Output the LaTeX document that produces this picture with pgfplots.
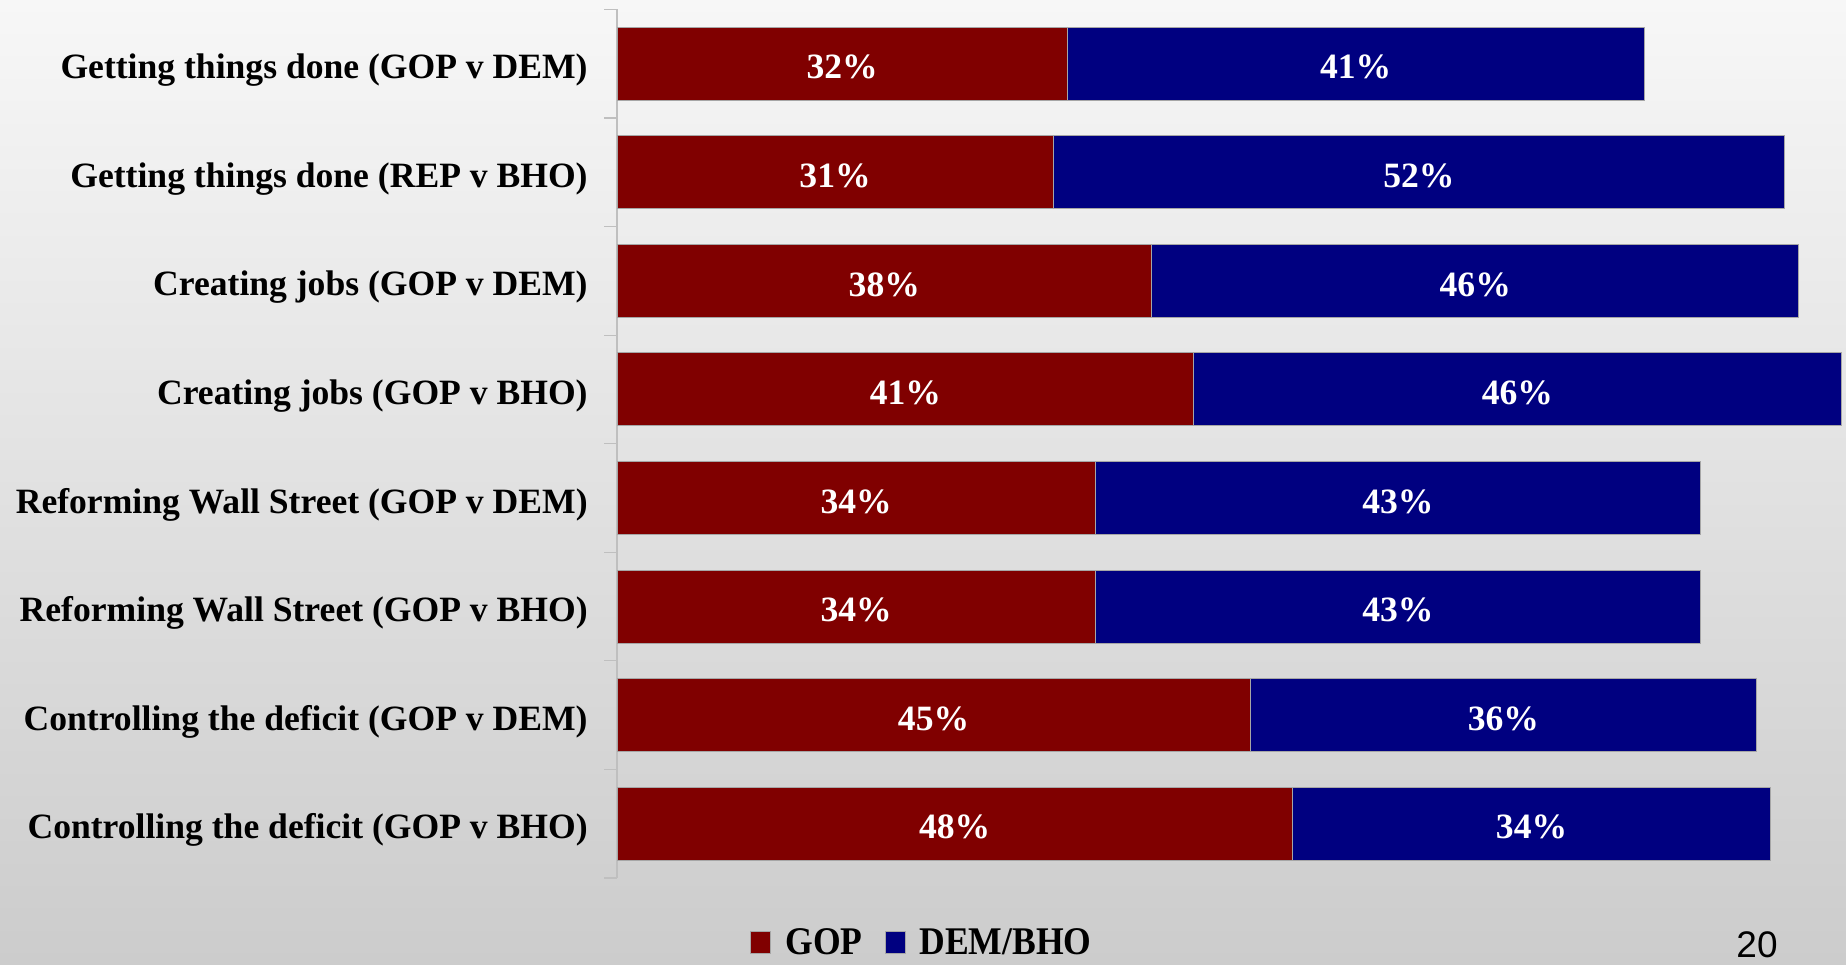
\documentclass[border=0pt]{standalone}
\usepackage{fontspec}
\setmainfont{Liberation Serif}
\newfontfamily\sansf{Liberation Sans}
\usepackage{graphicx}
\usepackage{pgfplots}
\usepackage{pgfplotstable}
\pgfplotsset{compat=1.18}
\definecolor{gop}{HTML}{800000}
\definecolor{dem}{HTML}{000080}
\definecolor{barline}{HTML}{A6A6A6}
\definecolor{axline}{HTML}{BFBFBF}
\definecolor{bgtop}{HTML}{F7F7F7}
\definecolor{bgbot}{HTML}{CCCCCC}
\pgfplotstableread{
idx gop dem
1 32 41
2 31 52
3 38 46
4 41 46
5 34 43
6 34 43
7 45 36
8 48 34
}\data
\newcommand{\lblfont}{\bfseries\fontsize{17.8}{21}\selectfont}
\begin{document}
\begin{tikzpicture}
\useasboundingbox (0,0) rectangle (923pt,482pt);
\clip (0,0) rectangle (923pt,482pt);
\shade[top color=bgtop, bottom color=bgbot] (0,0) rectangle (923pt,482pt);
\begin{axis}[
  at={(308.5pt,43pt)}, anchor=south west,
  scale only axis, width=614.5pt, height=434.3pt,
  xmin=0, xmax=87.35, ymin=0.5, ymax=8.5, y dir=reverse,
  /pgf/number format/assume math mode=true,
  axis x line=none, axis y line*=left,
  y axis line style={draw=axline, line width=0.6pt},
  ytick={1,...,8},
  yticklabels={Getting things done (GOP v DEM),Getting things done (REP v BHO),Creating jobs (GOP v DEM),Creating jobs (GOP v BHO),Reforming Wall Street (GOP v DEM),Reforming Wall Street (GOP v BHO),Controlling the deficit (GOP v DEM),Controlling the deficit (GOP v BHO)},
  minor ytick={0.5,1.5,...,8.5},
  major tick length=0pt, minor tick length=6.3pt, tick align=outside,
  tick style={draw=axline, line width=0.6pt},
  minor tick style={draw=axline, line width=0.6pt},
  yticklabel style={font=\lblfont, anchor=east, inner sep=0pt, xshift=-14.5pt, yshift=-3.2pt},
  clip=false,
  legend columns=2,
  legend style={at={(axis description cs:0.249,-0.075)}, anchor=center, draw=none, fill=none, font=\lblfont, inner sep=0pt,
    /tikz/every odd column/.append style={column sep=5pt},
    /tikz/every even column/.append style={column sep=9pt}},
  legend image code/.code={\draw[#1,draw=barline,line width=0.5pt] (0pt,-5pt) rectangle (10pt,6pt);},
]
\addplot[xbar, bar width=36.5pt, bar shift=0pt, fill=dem, draw=barline, line width=0.5pt, forget plot]
  table[x expr=\thisrow{gop}+\thisrow{dem}, y=idx]{\data};
\addplot[xbar, bar width=36.5pt, bar shift=0pt, fill=gop, draw=barline, line width=0.5pt, forget plot]
  table[x=gop, y=idx]{\data};
\addplot[only marks, mark=*, mark size=0pt, mark options={draw=none, fill=none}, forget plot,
  point meta=explicit, nodes near coords={\pgfmathprintnumber{\pgfplotspointmeta}\%},
  every node near coord/.style={font=\lblfont, text=white, anchor=center, yshift=-1.8pt}]
  table[x expr=\thisrow{gop}/2, y=idx, meta=gop]{\data};
\addplot[only marks, mark=*, mark size=0pt, mark options={draw=none, fill=none}, forget plot,
  point meta=explicit, nodes near coords={\pgfmathprintnumber{\pgfplotspointmeta}\%},
  every node near coord/.style={font=\lblfont, text=white, anchor=center, yshift=-1.8pt}]
  table[x expr=\thisrow{gop}+\thisrow{dem}/2, y=idx, meta=dem]{\data};
\addlegendimage{fill=gop}
\addlegendentry{\scalebox{1}[1.1]{GOP}}
\addlegendimage{fill=dem}
\addlegendentry{\scalebox{1}[1.1]{DEM/BHO}}
\end{axis}
\node[font=\sansf\fontsize{18.5}{20}\selectfont, anchor=center] at (878.5pt,9.8pt) {20};
\end{tikzpicture}
\end{document}
